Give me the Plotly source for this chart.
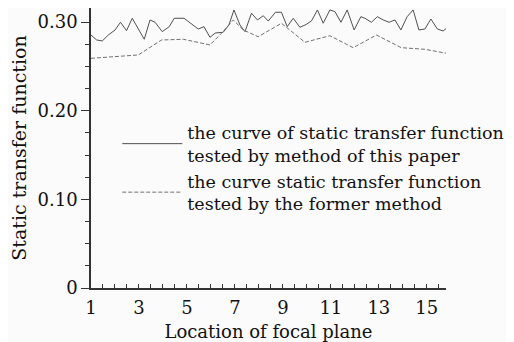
import plotly.graph_objects as go

# Method of this paper (solid)
x_paper = [1.0, 1.23, 1.47, 1.72, 2.0, 2.23, 2.48, 2.72, 3.22, 3.46, 3.67, 3.97, 4.26, 4.47,
           4.88, 5.47, 5.71, 5.96, 6.18, 6.51, 6.75, 6.96, 7.21, 7.42, 7.69, 7.94, 8.18, 8.39,
           8.69, 8.94, 9.18, 9.43, 9.71, 9.97, 10.19, 10.44, 10.68, 10.96, 11.17, 11.42, 11.68,
           11.97, 12.25, 12.42, 12.69, 12.94, 13.18, 13.43, 13.67, 13.92, 14.18, 14.43, 14.67,
           14.92, 15.17, 15.44, 15.68, 15.82]
y_paper = [0.2855, 0.2800, 0.2788, 0.2855, 0.2911, 0.2999, 0.2904, 0.3044, 0.2807, 0.3025,
           0.2999, 0.2893, 0.2949, 0.3044, 0.3044, 0.2923, 0.2949, 0.2829, 0.2878, 0.2886,
           0.2968, 0.3138, 0.2968, 0.2893, 0.3101, 0.3025, 0.3073, 0.3013, 0.3112, 0.3112,
           0.2949, 0.3044, 0.2942, 0.2974, 0.3014, 0.3138, 0.2988, 0.3138, 0.3119, 0.2999,
           0.3138, 0.2912, 0.3062, 0.3044, 0.2999, 0.3062, 0.3025, 0.2999, 0.3025, 0.2912,
           0.3062, 0.3138, 0.2912, 0.2923, 0.3036, 0.2923, 0.2901, 0.2931]

# Former method (dashed)
x_former = [1.0, 2.97, 3.94, 4.85, 5.96, 6.44, 6.93, 7.35, 7.97, 8.60, 8.94, 9.92, 10.96,
            11.93, 12.90, 13.94, 14.92, 15.82]
y_former = [0.2592, 0.2630, 0.2799, 0.2807, 0.2743, 0.2875, 0.3025, 0.2912, 0.2836, 0.2931,
            0.2988, 0.2773, 0.2847, 0.2712, 0.2855, 0.2712, 0.2694, 0.2649]

name_paper = "the curve of static transfer function<br>tested by method of this paper"
name_former = "the curve static transfer function<br>tested by the former method"

x_tickvals = [1, 3, 5, 7, 9, 11, 13, 15]
y_tickvals = [0, 0.10, 0.20, 0.30]
y_ticktext = ["0", "0.10", "0.20", "0.30"]

FONT = "DejaVu Serif"
BG = "#fbfbfb"

fig = go.Figure()
fig.add_trace(go.Scatter(x=x_paper, y=y_paper, mode="lines", name=name_paper,
                         line=dict(color="#505050", width=1)))
fig.add_trace(go.Scatter(x=x_former, y=y_former, mode="lines", name=name_former,
                         line=dict(color="#707070", width=1, dash="4px,2px")))

# page body has an 8px margin, so the figure is sized/offset to fit the 514x342 window
fig.update_layout(
    width=506, height=334,
    margin=dict(l=83, r=68, t=0, b=54, autoexpand=False),
    paper_bgcolor=BG, plot_bgcolor=BG,
    font=dict(family=FONT, size=18, color="#111"),
    showlegend=True,
    legend=dict(x=0.074, y=0.62, xanchor="left", yanchor="top",
                bgcolor="rgba(0,0,0,0)", font=dict(family=FONT, size=17.5, color="#111"),
                itemwidth=60, tracegroupgap=0),
)
fig.update_xaxes(
    range=[1, 15.8], showgrid=False, zeroline=False,
    showline=True, linecolor="#333", linewidth=1.5,
    tickmode="array", tickvals=x_tickvals,
    ticks="inside", ticklen=4, tickcolor="#333", tickwidth=1.2,
    ticklabelstandoff=3,
    minor=dict(dtick=0.5, tick0=1, ticks="inside", ticklen=4, tickcolor="#333", tickwidth=1.2),
    title=dict(text="Location of focal plane", standoff=10, font=dict(family=FONT, size=18)),
    tickfont=dict(family=FONT, size=18),
)
fig.update_yaxes(
    range=[0, 0.316], showgrid=False, zeroline=False,
    showline=True, linecolor="#333", linewidth=1.5,
    tickmode="array", tickvals=y_tickvals, ticktext=y_ticktext,
    ticks="outside", ticklen=8, tickcolor="#333", tickwidth=1.2,
    minor=dict(dtick=0.025, tick0=0, ticks="outside", ticklen=4, tickcolor="#333", tickwidth=1.2),
    title=dict(text="Static transfer function", standoff=6, font=dict(family=FONT, size=19)),
    tickfont=dict(family=FONT, size=18),
)

fig.write_html("out.html")
